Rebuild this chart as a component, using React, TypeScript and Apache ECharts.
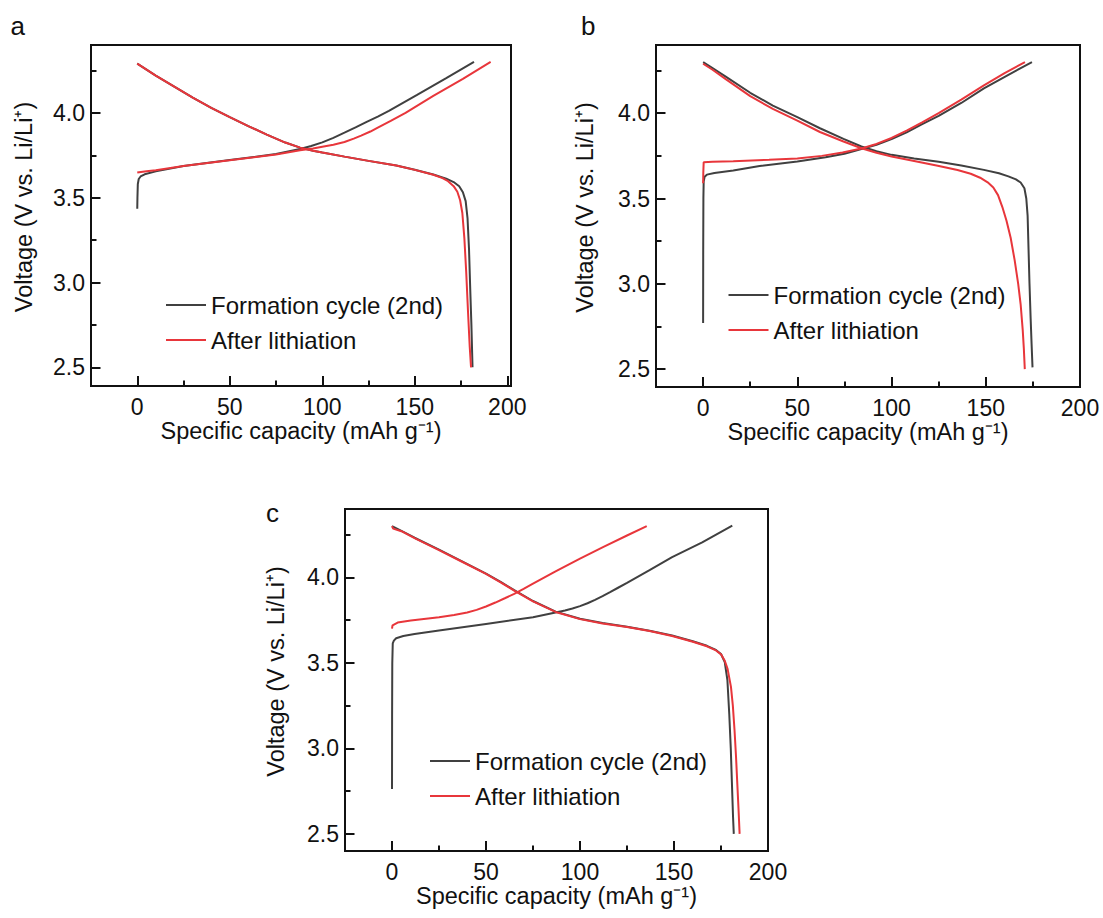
import React, { useEffect, useRef } from "react";
import * as echarts from "echarts";

// ---------- data ----------
const SERIES_BLACK = "Formation cycle (2nd)";
const SERIES_RED = "After lithiation";
const PANEL_LETTERS = ["a", "b", "c"];
const X_TITLE = "Specific capacity (mAh g\u207B\u00B9)";
const Y_TITLE = "Voltage (V vs. Li/Li\u207A)";
const X_LABELS = [0, 50, 100, 150, 200];
const X_MINOR = [25, 75, 125, 175];
const Y_LABELS = [2.5, 3.0, 3.5, 4.0];
const Y_MINOR = [2.75, 3.25, 3.75, 4.25];

// panel a
const aBlackCharge = [
  [0, 3.435], [0.1, 3.5], [0.3, 3.58], [0.8, 3.61], [1.8, 3.625], [4, 3.638], [10, 3.655],
  [25, 3.687], [50, 3.722], [75, 3.757], [88, 3.787], [94, 3.805], [100, 3.826], [106, 3.853],
  [112, 3.883], [118, 3.914], [124, 3.947], [130, 3.978], [136, 4.012], [151, 4.105], [167, 4.205],
  [182, 4.3],
];
const aBlackDischarge = [
  [0, 4.29], [5, 4.255], [10, 4.22], [20, 4.155], [30, 4.09], [40, 4.03], [50, 3.975], [60, 3.922],
  [70, 3.872], [80, 3.825], [88, 3.795], [95, 3.777], [100, 3.766], [112, 3.742], [125, 3.717],
  [140, 3.69], [150, 3.665], [160, 3.637], [167, 3.612], [171, 3.592], [174, 3.567], [176, 3.532],
  [177.5, 3.48], [178.5, 3.38], [179.3, 3.2], [180, 2.95], [180.6, 2.75], [181.2, 2.5],
];
const aRedCharge = [
  [0, 3.648], [2, 3.652], [5, 3.656], [10, 3.662], [25, 3.687], [50, 3.72], [75, 3.755], [88, 3.78],
  [95, 3.79], [100, 3.8], [106, 3.812], [112, 3.828], [117, 3.848], [121, 3.866], [126, 3.89],
  [130, 3.913], [137, 3.953], [145, 4.0], [160, 4.1], [176, 4.2], [191, 4.3],
];
const aRedDischarge = [
  [0, 4.29], [5, 4.255], [10, 4.22], [20, 4.155], [30, 4.09], [40, 4.03], [50, 3.975], [60, 3.922],
  [70, 3.872], [80, 3.825], [88, 3.795], [95, 3.777], [100, 3.766], [112, 3.742], [125, 3.717],
  [140, 3.69], [150, 3.664], [160, 3.635], [165, 3.615], [168, 3.597], [171, 3.568], [173, 3.535],
  [174.5, 3.485], [175.7, 3.41], [176.8, 3.26], [177.8, 3.06], [178.8, 2.82], [179.7, 2.62],
  [180.4, 2.5],
];

// panel b
const bBlackCharge = [
  [0, 2.77], [0.05, 3.2], [0.15, 3.5], [0.3, 3.6], [0.8, 3.628], [2, 3.64], [6, 3.65], [16, 3.664],
  [30, 3.69], [50, 3.717], [65, 3.742], [75, 3.762], [84, 3.79], [92, 3.815], [100, 3.848],
  [108, 3.888], [116, 3.935], [125, 3.985], [137, 4.06], [149, 4.146], [162, 4.225], [174.5, 4.3],
];
const bBlackDischarge = [
  [0, 4.3], [5, 4.265], [12, 4.215], [25, 4.12], [37, 4.045], [50, 3.977], [62, 3.912], [74.5, 3.85],
  [84, 3.805], [92, 3.777], [100, 3.756], [112, 3.735], [125, 3.715], [137, 3.694], [149, 3.668],
  [157, 3.648], [162, 3.63], [166, 3.612], [168.5, 3.594], [170.5, 3.56], [171.5, 3.5], [172.2, 3.4],
  [172.7, 3.2], [173.2, 3.0], [173.8, 2.8], [174.3, 2.65], [174.8, 2.51],
];
const bRedCharge = [
  [0, 3.59], [0.1, 3.65], [0.3, 3.712], [5, 3.715], [16, 3.719], [35, 3.727], [50, 3.735],
  [63, 3.75], [74, 3.77], [84, 3.793], [92, 3.82], [100, 3.855], [108, 3.898], [116, 3.945],
  [125, 4.0], [137, 4.08], [149, 4.163], [160, 4.235], [170.8, 4.3],
];
const bRedDischarge = [
  [0, 4.29], [5, 4.255], [12, 4.2], [25, 4.1], [37, 4.025], [50, 3.957], [62, 3.89], [74.5, 3.834],
  [84, 3.795], [92, 3.768], [100, 3.746], [112, 3.72], [124.5, 3.692], [135, 3.667], [142, 3.645],
  [147, 3.622], [151, 3.595], [154, 3.565], [156.5, 3.52], [158.8, 3.45], [161, 3.37], [163.2, 3.27],
  [165.3, 3.14], [167.2, 3.0], [168.5, 2.88], [169.6, 2.73], [170.2, 2.62], [170.7, 2.5],
];

// panel c
const cBlackCharge = [
  [0, 2.763], [0.05, 3.2], [0.15, 3.5], [0.4, 3.614], [1, 3.63], [2.2, 3.644], [6, 3.657],
  [12, 3.669], [25, 3.689], [50, 3.728], [75, 3.767], [87, 3.795], [92, 3.806], [96, 3.818],
  [100, 3.832], [104, 3.849], [108, 3.869], [112, 3.891], [116, 3.914], [120, 3.938], [125, 3.968],
  [137, 4.042], [149, 4.118], [165, 4.205], [181, 4.303],
];
const cBlackDischarge = [
  [0, 4.3], [5, 4.272], [12, 4.232], [25, 4.162], [37, 4.095], [50, 4.022], [58, 3.972], [65, 3.925],
  [75, 3.862], [87, 3.8], [100, 3.758], [112, 3.733], [125, 3.712], [137, 3.688], [149, 3.66],
  [160, 3.627], [167.5, 3.6], [172, 3.578], [175, 3.552], [177, 3.505], [178.4, 3.4], [179.4, 3.2],
  [180.2, 3.0], [180.8, 2.8], [181.4, 2.6], [181.8, 2.5],
];
const cRedCharge = [
  [0, 3.7], [0.3, 3.72], [3, 3.736], [10, 3.748], [25, 3.767], [33, 3.78], [40, 3.795],
  [45, 3.81], [50, 3.83], [55, 3.853], [60, 3.878], [65, 3.904], [70, 3.933], [75, 3.963],
  [87, 4.035], [100, 4.11], [112.5, 4.178], [125, 4.245], [135.5, 4.3],
];
const cRedDischarge = [
  [0, 4.3], [0.6, 4.285], [5, 4.27], [12, 4.23], [25, 4.16], [37, 4.093], [50, 4.02], [58, 3.97],
  [65, 3.923], [75, 3.86], [87, 3.798], [100, 3.756], [112, 3.731], [125, 3.71], [137, 3.686],
  [149, 3.657], [160, 3.624], [167.5, 3.597], [172, 3.575], [175, 3.55], [177, 3.512],
  [178.5, 3.465], [180.3, 3.36], [181.3, 3.25], [182.2, 3.106], [183, 2.95], [183.6, 2.81],
  [184.3, 2.65], [184.9, 2.5],
];

const PANEL_DATA = [
  { black: [aBlackCharge, aBlackDischarge], red: [aRedCharge, aRedDischarge] },
  { black: [bBlackCharge, bBlackDischarge], red: [bRedCharge, bRedDischarge] },
  { black: [cBlackCharge, cBlackDischarge], red: [cRedCharge, cRedDischarge] },
];

// ---------- layout / style ----------
const FONT = "'Liberation Sans', Arial, Helvetica, sans-serif";
const INK = "#111111";
const BLACK_LINE = "#404040";
const RED_LINE = "#e8363b";

const LAYOUT = [
  { left: 91, top: 45, width: 420, height: 341, xMin: -25, xMax: 202, yMin: 2.39, yMax: 4.4, yGap: 55, legend: { left: 166, top: 293 }, letter: { x: 10.5, y: 13 } },
  { left: 656, top: 45, width: 424, height: 342, xMin: -25, xMax: 200, yMin: 2.395, yMax: 4.4, yGap: 59, legend: { left: 728.5, top: 283 }, letter: { x: 581, y: 12.5 } },
  { left: 345, top: 509, width: 423, height: 342, xMin: -25, xMax: 200, yMin: 2.4, yMax: 4.4, yGap: 57, legend: { left: 430, top: 749 }, letter: { x: 266, y: 499.5 } },
];

function buildOption() {
  const grid: any[] = [];
  const xAxis: any[] = [];
  const yAxis: any[] = [];
  const series: any[] = [];
  const legend: any[] = [];
  const graphic: any[] = [];
  const n = LAYOUT.length;

  // main grids carry the series, labels and major ticks
  LAYOUT.forEach((p, i) => {
    grid.push({
      left: p.left, top: p.top, width: p.width, height: p.height,
      show: true, borderColor: INK, borderWidth: 2,
    });
    xAxis.push({
      type: "value", gridIndex: i, min: p.xMin, max: p.xMax,
      axisLine: { show: true, onZero: false, lineStyle: { color: INK, width: 2 } },
      axisTick: { show: true, inside: true, length: 10, customValues: X_LABELS, lineStyle: { color: INK, width: 2 } },
      axisLabel: { show: true, customValues: X_LABELS, margin: 9, fontSize: 23, color: INK, fontFamily: FONT },
      splitLine: { show: false },
      name: X_TITLE, nameLocation: "middle", nameGap: 32,
      nameTextStyle: { fontSize: 23.5, color: INK, fontFamily: FONT },
    });
    yAxis.push({
      type: "value", gridIndex: i, min: p.yMin, max: p.yMax,
      axisLine: { show: true, onZero: false, lineStyle: { color: INK, width: 2 } },
      axisTick: { show: true, inside: true, length: 9.5, customValues: Y_LABELS, lineStyle: { color: INK, width: 2 } },
      axisLabel: {
        show: true, customValues: Y_LABELS, margin: 6, fontSize: 23, color: INK, fontFamily: FONT,
        formatter: (v: number) => v.toFixed(1),
      },
      splitLine: { show: false },
      name: Y_TITLE, nameLocation: "middle", nameGap: p.yGap,
      nameTextStyle: { fontSize: 23.5, color: INK, fontFamily: FONT, padding: [0, 0, 0, 17] },
    });

    const d = PANEL_DATA[i];
    const mk = (name: string, color: string, data: number[][]) => ({
      type: "line", name, xAxisIndex: i, yAxisIndex: i, data,
      symbol: "none", showSymbol: false, smooth: false,
      lineStyle: { color, width: 2 }, itemStyle: { color },
      emphasis: { disabled: true }, silent: true,
    });
    d.black.forEach((arr) => series.push(mk(SERIES_BLACK, BLACK_LINE, arr)));
    d.red.forEach((arr) => series.push(mk(SERIES_RED, RED_LINE, arr)));

    legend.push({
      show: true, orient: "vertical", left: p.legend.left, top: p.legend.top, padding: 0,
      icon: "rect", itemWidth: 40, itemHeight: 2, itemGap: 11, selectedMode: false,
      data: [SERIES_BLACK, SERIES_RED],
      textStyle: { fontSize: 24, color: INK, fontFamily: FONT, lineHeight: 24 },
    });

    graphic.push({
      type: "text", x: p.letter.x, y: p.letter.y, silent: true,
      style: { text: PANEL_LETTERS[i], fontSize: 26, fontFamily: FONT, fill: INK },
    });
  });

  // overlay grids carry only the minor ticks
  LAYOUT.forEach((p, i) => {
    grid.push({ left: p.left, top: p.top, width: p.width, height: p.height, show: false });
    xAxis.push({
      type: "value", gridIndex: n + i, min: p.xMin, max: p.xMax,
      axisLine: { show: false, onZero: false },
      axisTick: { show: true, inside: true, length: 5.5, customValues: X_MINOR, lineStyle: { color: INK, width: 2 } },
      axisLabel: { show: false },
      splitLine: { show: false },
    });
    yAxis.push({
      type: "value", gridIndex: n + i, min: p.yMin, max: p.yMax,
      axisLine: { show: false, onZero: false },
      axisTick: { show: true, inside: true, length: 5.5, customValues: Y_MINOR, lineStyle: { color: INK, width: 2 } },
      axisLabel: { show: false },
      splitLine: { show: false },
    });
  });

  return { animation: false, grid, xAxis, yAxis, series, legend, graphic };
}

export default function App() {
  const ref = useRef<HTMLDivElement>(null);
  useEffect(() => {
    if (!ref.current) return;
    const chart = echarts.init(ref.current, undefined, { renderer: "svg" });
    chart.setOption(buildOption() as any);
    return () => chart.dispose();
  }, []);
  return (
    <div
      ref={ref}
      style={{ position: "fixed", left: 0, top: 0, width: 1103, height: 918, background: "#fff" }}
    />
  );
}
